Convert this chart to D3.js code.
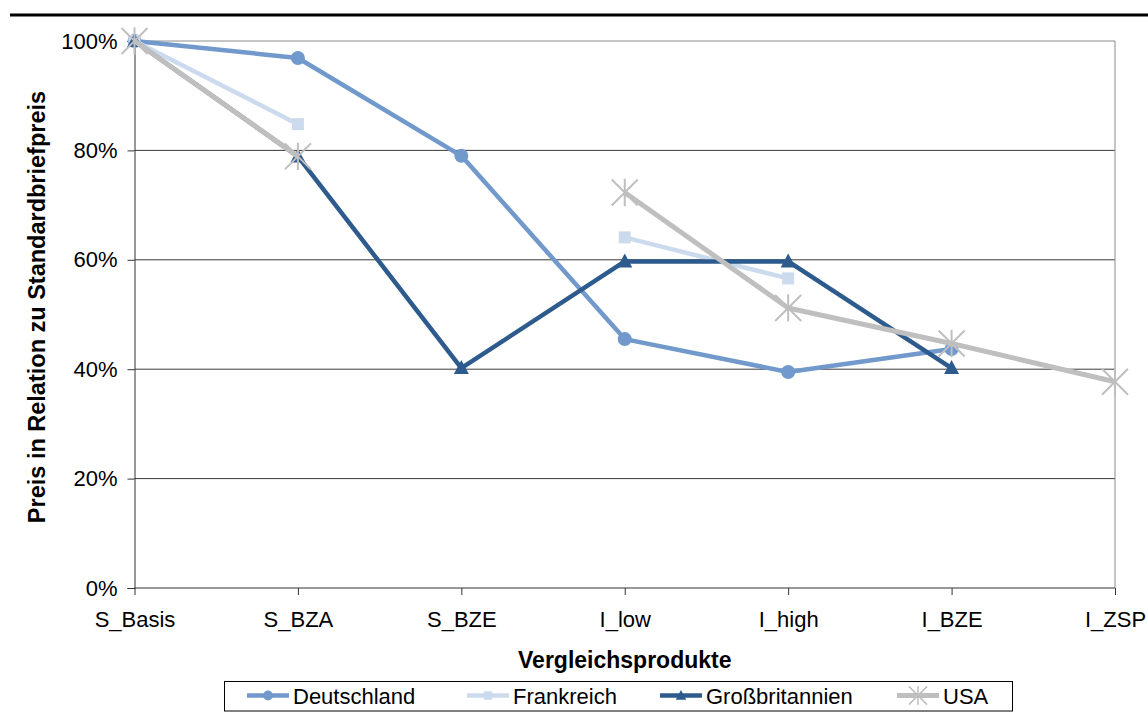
<!DOCTYPE html>
<html><head><meta charset="utf-8">
<script src="https://cdn.jsdelivr.net/npm/d3@7"></script>
<style>body{margin:0;background:#fff}svg{display:block;font-family:"Liberation Sans",Arial,sans-serif}</style>
</head><body>
<svg id="c" width="1148" height="717"></svg>
<script>
const categories = ["S_Basis","S_BZA","S_BZE","I_low","I_high","I_BZE","I_ZSP"];
const deutschland = [1.00,0.969,0.79,0.455,0.395,0.437,null];
const frankreich = [1.00,0.848,null,0.641,0.566,null,null];
const grossbritannien = [1.00,0.789,0.402,0.597,0.597,0.402,null];
const usa = [1.00,0.789,null,0.723,0.512,0.447,0.377];
const yTicks = [0,0.2,0.4,0.6,0.8,1.0];
const seriesNames = ["Deutschland","Frankreich","Großbritannien","USA"];

const series = [
  {name:seriesNames[0], values:deutschland, color:"#7199CC", marker:"circle", width:4.5},
  {name:seriesNames[1], values:frankreich, color:"#CCDAEE", marker:"square", width:4.5},
  {name:seriesNames[2], values:grossbritannien, color:"#2E5B8E", marker:"triangle", width:4.5},
  {name:seriesNames[3], values:usa, color:"#BFBFBF", marker:"star", width:5}
];

const svg = d3.select("#c");
const L=134.5, R=1115, T=41, B=588;
const x = d3.scalePoint().domain(categories).range([L,R]);
const y = d3.scaleLinear().domain([0,1]).range([B,T]);
const fs = 22;

// top rule
svg.append("line").attr("x1",10).attr("x2",1148).attr("y1",15).attr("y2",15).attr("stroke","#000").attr("stroke-width",3);

// gridlines
svg.append("g").selectAll("line").data(yTicks.filter(d=>d>0)).join("line")
  .attr("x1",L).attr("x2",R).attr("y1",d=>y(d)).attr("y2",d=>y(d))
  .attr("stroke",d=>d===1?"#8c8c8c":"#3a3a3a").attr("stroke-width",1);
// right border
svg.append("line").attr("x1",R).attr("x2",R).attr("y1",T).attr("y2",B).attr("stroke","#8c8c8c");

// y axis
const yAxis = svg.append("g").attr("transform",`translate(${L},0)`)
  .call(d3.axisLeft(y).tickValues(yTicks).tickFormat(d3.format(".0%")).tickSize(7).tickPadding(10));
yAxis.selectAll("text").attr("font-size",fs).attr("fill","#000").attr("font-family","Liberation Sans, Arial, sans-serif");
yAxis.selectAll("line, path").attr("stroke","#333");

// x axis
const xAxis = svg.append("g").attr("transform",`translate(0,${B})`)
  .call(d3.axisBottom(x).tickSize(7).tickSizeOuter(0).tickPadding(16));
xAxis.select("path").attr("d",`M${L},0H${R}`);
xAxis.selectAll("text").attr("font-size",fs).attr("fill","#000").attr("font-family","Liberation Sans, Arial, sans-serif");
xAxis.selectAll("line, path").attr("stroke","#333");

// titles
svg.append("text").attr("x",(L+R)/2).attr("y",668).attr("text-anchor","middle")
  .attr("font-size",23).attr("font-weight","bold").text("Vergleichsprodukte");
svg.append("text").attr("transform",`translate(45,307) rotate(-90)`).attr("text-anchor","middle")
  .attr("font-size",23.5).attr("font-weight","bold").text("Preis in Relation zu Standardbriefpreis");

function drawMarker(g, type, color, cx, cy, scale){
  scale = scale||1;
  if(type==="circle") g.append("circle").attr("cx",cx).attr("cy",cy).attr("r",7*scale).attr("fill",color);
  else if(type==="square") g.append("rect").attr("x",cx-6*scale).attr("y",cy-6*scale).attr("width",12*scale).attr("height",12*scale).attr("fill",color);
  else if(type==="triangle") g.append("path").attr("d",`M${cx},${cy-8*scale}L${cx+7.5*scale},${cy+6*scale}L${cx-7.5*scale},${cy+6*scale}Z`).attr("fill",color);
  else if(type==="star"){
    const s=13*scale;
    const p=`M${cx-s},${cy-s}L${cx+s},${cy+s}M${cx-s},${cy+s}L${cx+s},${cy-s}M${cx},${cy-s*1.05}L${cx},${cy+s*1.05}`;
    g.append("path").attr("d",p).attr("stroke",color).attr("stroke-width",scale<1?1.5:2).attr("fill","none");
  }
}

const line = d3.line().defined(d=>d.v!=null).x(d=>x(d.c)).y(d=>y(d.v));
series.forEach(s=>{
  const pts = categories.map((c,i)=>({c, v:s.values[i]}));
  const g = svg.append("g");
  g.append("path").datum(pts).attr("d",line).attr("fill","none").attr("stroke",s.color).attr("stroke-width",s.width).attr("stroke-linejoin","round");
  pts.filter(d=>d.v!=null).forEach(d=>drawMarker(g, s.marker, s.color, x(d.c), y(d.v)));
});

// legend
const lg = svg.append("g");
lg.append("rect").attr("x",224.5).attr("y",681.5).attr("width",788).attr("height",29.5).attr("fill","#fff").attr("stroke","#000");
const legX = [247, 467, 660, 897];
series.forEach((s,i)=>{
  const lx = legX[i], ly = 695.5;
  lg.append("line").attr("x1",lx).attr("x2",lx+42).attr("y1",ly).attr("y2",ly).attr("stroke",s.color).attr("stroke-width",s.width);
  drawMarker(lg, s.marker, s.color, lx+21, ly, 0.7);
  lg.append("text").attr("x",lx+46).attr("y",ly+8).attr("font-size",fs).text(s.name);
});
</script>
</body></html>
